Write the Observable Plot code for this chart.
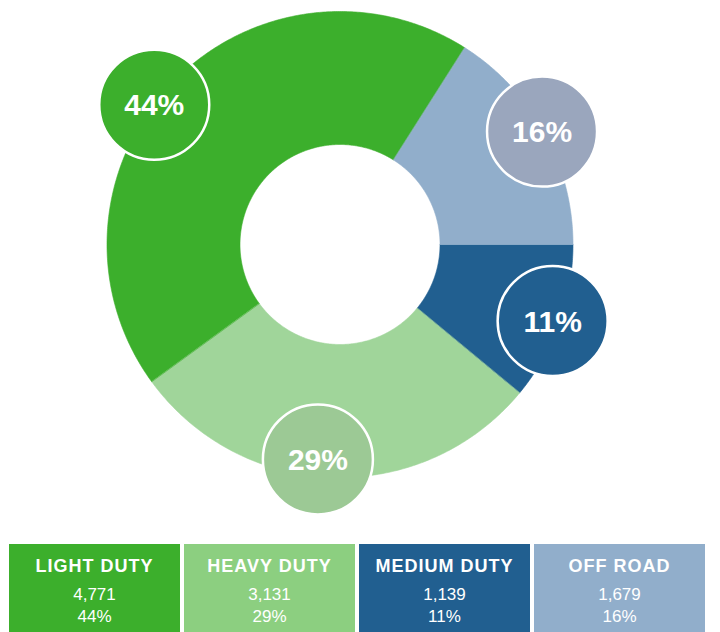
<!DOCTYPE html>
<html>
<head>
<meta charset="utf-8">
<script src="https://cdn.jsdelivr.net/npm/d3@7"></script>
<script src="https://cdn.jsdelivr.net/npm/@observablehq/plot@0.6"></script>
<style>
  body { margin: 0; background: #fff; font-family: "Liberation Sans", Arial, sans-serif; }
  #chart svg { display: block; }
  #legend { display: flex; gap: 4px; padding-left: 9px; margin-top: 4px; }
  .box { width: 171px; height: 88px; color: #fff; text-align: center; box-sizing: border-box; padding-top: 12px; }
  .box .h { font-weight: bold; font-size: 18px; letter-spacing: 1px; line-height: 20px; }
  .box .v { font-size: 17px; line-height: 22px; }
  .box .v1 { margin-top: 8px; }
</style>
</head>
<body>
<div id="chart"></div>
<div id="legend"></div>
<script>
// Data (clockwise from 3 o'clock)
const categories = ["MEDIUM DUTY", "HEAVY DUTY", "LIGHT DUTY", "OFF ROAD"];
const counts = [1139, 3131, 4771, 1679];
const percents = [11, 29, 44, 16];
const sliceColors = ["#215f90", "#a0d59a", "#3caf2c", "#91aecb"];
const bubbleColors = ["#215f90", "#9cc995", "#3caf2c", "#9aa6bd"];
const boxColors = ["#215f90", "#8ccf80", "#3caf2c", "#91aecb"];
const legendOrder = ["LIGHT DUTY", "HEAVY DUTY", "MEDIUM DUTY", "OFF ROAD"];

const W = 720, H = 540;
const cx = 339.5, cy = 244;
const R1 = 233, R0 = 100, RB = 226;
const startAngle = Math.PI / 2; // clockwise from top

// Build slices
const slices = [];
let acc = startAngle;
categories.forEach((c, i) => {
  const a0 = acc, a1 = acc + (percents[i] / d3.sum(percents)) * 2 * Math.PI;
  acc = a1;
  slices.push({cat: c, a0, a1, i});
});
function pt(r, a) { return {x: r * Math.sin(a), y: -r * Math.cos(a)}; }
const slicePts = slices.map(s => {
  const n = Math.max(4, Math.ceil((s.a1 - s.a0) / (Math.PI / 360)));
  const pts = [];
  for (let k = 0; k <= n; k++) pts.push(pt(R1, s.a0 + (s.a1 - s.a0) * k / n));
  for (let k = n; k >= 0; k--) pts.push(pt(R0, s.a0 + (s.a1 - s.a0) * k / n));
  return pts;
});
// bubble callouts at slice mid-angle, with small hand-placement nudges (pixels)
const nudge = {"LIGHT DUTY": [-21, 15], "HEAVY DUTY": [-15, -11], "OFF ROAD": [4, -4], "MEDIUM DUTY": [0, 0]};
const bubbles = slices.map(s => {
  const m = (s.a0 + s.a1) / 2;
  return {...pt(RB, m), label: percents[s.i] + "%", color: bubbleColors[s.i], cat: s.cat};
});

const chart = Plot.plot({
  width: W, height: H,
  margin: 0,
  x: {domain: [-cx, W - cx], range: [0, W], axis: null},
  y: {domain: [-cy, H - cy], range: [0, H], axis: null},
  color: {type: "identity"},
  marks: [
    ...slicePts.map((pts, i) => Plot.line(pts, {x: "x", y: "y", fill: sliceColors[i], stroke: sliceColors[i], strokeWidth: 0.6, curve: "linear-closed"})),
    ...bubbles.map(b => Plot.dot([b], {x: "x", y: "y", r: 55, fill: "color", stroke: "white", strokeWidth: 2.5, dx: nudge[b.cat][0], dy: nudge[b.cat][1]})),
    ...bubbles.map(b => Plot.text([b], {x: "x", y: "y", text: "label", fill: "white", fontSize: 30, fontWeight: "bold", fontFamily: "Liberation Sans, Arial, sans-serif", dx: nudge[b.cat][0], dy: nudge[b.cat][1] + 1}))
  ]
});
document.getElementById("chart").append(chart);

const legend = document.getElementById("legend");
legendOrder.forEach(name => {
  const i = categories.indexOf(name);
  const div = document.createElement("div");
  div.className = "box";
  div.style.background = boxColors[i];
  div.innerHTML = `<div class="h">${name}</div><div class="v v1">${d3.format(",")(counts[i])}</div><div class="v">${percents[i]}%</div>`;
  legend.append(div);
});
</script>
</body>
</html>
